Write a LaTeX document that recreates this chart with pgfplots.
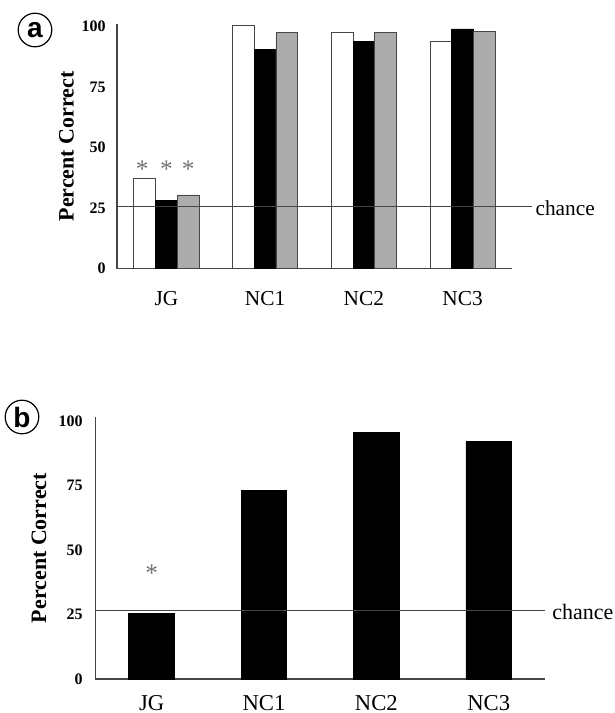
\documentclass[border=0pt]{standalone}
\usepackage{pgfplots}
\pgfplotsset{compat=1.18}
\usepackage{fontspec}
\setmainfont{Liberation Serif}
\newfontfamily\circfont{Liberation Sans}
\definecolor{barGray}{RGB}{172,172,172}
\definecolor{lineGray}{RGB}{70,70,70}

\pgfplotsset{
  panel/.style={
    scale only axis,
    axis x line=bottom, axis y line=left,
    axis line style={-, draw=lineGray, line width=0.9pt},
    xmin=-0.5, xmax=3.5, ymin=0,
    xtick={0,1,2,3},
    xticklabels={JG,NC1,NC2,NC3},
    ytick={0,25,50,75,100},
    yticklabels={0,25,50,75,100},
    major tick length=0pt,
    tick style={draw=none},
    yticklabel style={font=\bfseries\fontsize{12}{12}\selectfont, anchor=east, inner sep=0pt},
    xticklabel style={anchor=base, inner sep=0pt},
    ylabel={Percent Correct},
    ylabel style={font=\bfseries\fontsize{16.5}{16.5}\selectfont, anchor=center, rotate=0},
    clip=false,
  },
  star/.style={only marks, mark=text, text mark={*}, text mark as node=true,
    text mark style={font=\fontsize{19}{19}\selectfont, text=black!55}},
}

\begin{document}
\begin{tikzpicture}
\useasboundingbox (0,0) rectangle (460.5pt,-534.75pt);

% panel a
\draw[line width=0.9pt] (26.25pt,-22.5pt) circle (12.6pt);
\node[font=\circfont\bfseries\fontsize{21}{21}\selectfont] at (26.25pt,-22.5pt) {a};

\begin{axis}[panel,
  at={(87.75pt,-201.4pt)}, anchor=south west,
  width=296.25pt, height=183.3pt, ymax=101,
  yticklabel style={xshift=-8.25pt},
  xticklabel style={font=\fontsize{16}{16}\selectfont, yshift=-28pt},
  ylabel style={at={(axis description cs:-0.128,0.5)}},
]
\addplot[ybar, bar width=0.22, bar shift=-0.22, fill=white, draw=lineGray, line width=0.6pt]
  coordinates {(0,37.3) (1,100.6) (2,97.4) (3,93.9)};
\addplot[ybar, bar width=0.22, bar shift=0, fill=black, draw=black, line width=0.6pt]
  coordinates {(0,28.3) (1,90.6) (2,93.7) (3,99)};
\addplot[ybar, bar width=0.22, bar shift=0.22, fill=barGray, draw=lineGray, line width=0.6pt]
  coordinates {(0,30.4) (1,97.4) (2,97.4) (3,97.8)};
% chance line
\addplot[sharp plot, mark=none, draw=lineGray, line width=0.7pt]
  coordinates {(-0.5,25.6) (3.70,25.6)}
  node[pos=1, anchor=west, inner sep=0pt, xshift=2.5pt, yshift=-1pt, text=black,
       font=\fontsize{16}{16}\selectfont] {chance};
% asterisks
\addplot[star] coordinates {(-0.245,41) (0,41) (0.22,41)};
\end{axis}

% panel b
\draw[line width=0.9pt] (16.5pt,-312.75pt) circle (12.6pt);
\node[font=\circfont\bfseries\fontsize{21}{21}\selectfont] at (16.5pt,-312.75pt) {b};

\begin{axis}[panel,
  at={(71.6pt,-509.25pt)}, anchor=south west,
  width=337.1pt, height=196.4pt, ymax=101.5,
  yticklabel style={xshift=-9.4pt},
  xticklabel style={font=\fontsize{17}{17}\selectfont, yshift=-23.25pt},
  ylabel style={at={(axis description cs:-0.1257,0.5)}},
]
\addplot[ybar, bar width=0.405, bar shift=0, fill=black, draw=black, line width=0.6pt]
  coordinates {(0,25.3) (1,73) (2,95.5) (3,92)};
\addplot[sharp plot, mark=none, draw=lineGray, line width=0.7pt]
  coordinates {(-0.5,26.4) (3.5,26.4)}
  node[pos=1, anchor=west, inner sep=0pt, xshift=5.25pt, yshift=-1pt, text=black,
       font=\fontsize{16.5}{16.5}\selectfont] {chance};
\addplot[star] coordinates {(0,41)};
\end{axis}
\end{tikzpicture}
\end{document}
